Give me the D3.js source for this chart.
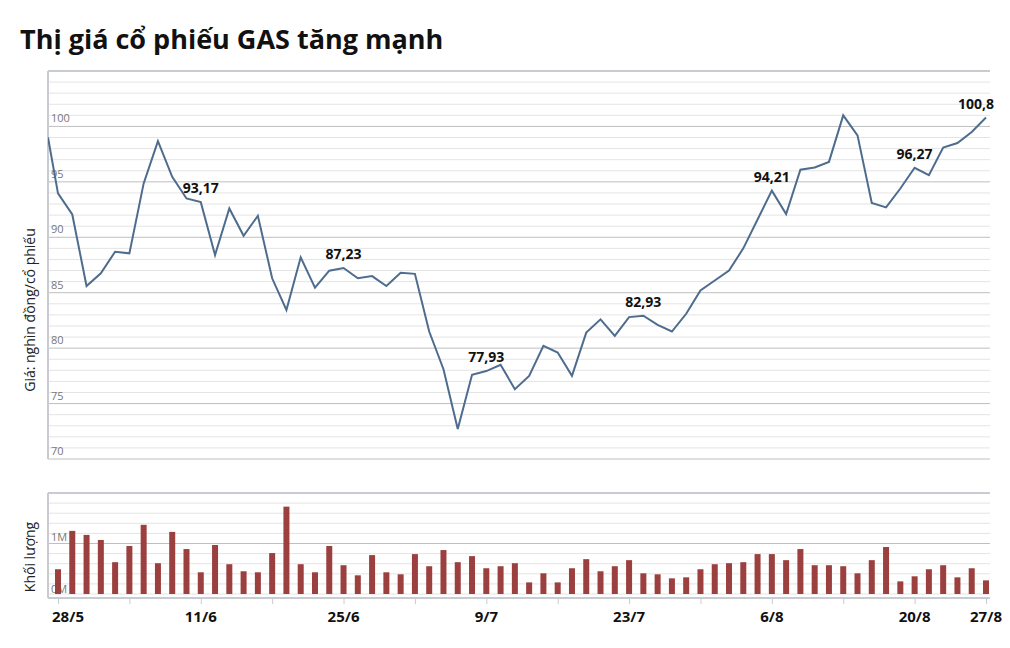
<!DOCTYPE html>
<html><head><meta charset="utf-8">
<script src="https://cdn.jsdelivr.net/npm/d3@7"></script>
<style>body{margin:0;background:#fff;font-family:"Open Sans",sans-serif}</style>
</head><body><svg id="c" width="1010" height="648"></svg>
<script>
// gia dong cua (nghin dong), phien dau tien nam mot phan ngoai khung
var firstPrice = 99.0;
var prices = [93.96, 92.06, 85.6, 86.75, 88.7, 88.55, 94.86, 98.68, 95.46, 93.5,
  93.17, 88.4, 92.6, 90.14, 91.94, 86.3, 83.44, 88.19, 85.45, 86.99,
  87.23, 86.3, 86.5, 85.6, 86.8, 86.7, 81.5, 78.1, 72.7, 77.6,
  77.93, 78.5, 76.3, 77.5, 80.2, 79.6, 77.5, 81.4, 82.6, 81.1,
  82.8, 82.93, 82.1, 81.5, 83.1, 85.2, 86.1, 87.0, 89.0, 91.6,
  94.21, 92.1, 96.1, 96.3, 96.8, 101.0, 99.2, 93.1, 92.7, 94.4,
  96.27, 95.6, 98.1, 98.5, 99.5, 100.8];
// khoi luong (trieu co phieu)
var volumes = [0.49, 1.25, 1.17, 1.07, 0.63, 0.95, 1.37, 0.61, 1.23, 0.89,
  0.43, 0.97, 0.59, 0.45, 0.43, 0.81, 1.73, 0.59, 0.43, 0.95,
  0.57, 0.37, 0.77, 0.43, 0.39, 0.79, 0.55, 0.87, 0.63, 0.75,
  0.51, 0.55, 0.61, 0.23, 0.41, 0.23, 0.51, 0.69, 0.45, 0.55,
  0.67, 0.41, 0.39, 0.31, 0.33, 0.49, 0.59, 0.61, 0.63, 0.79,
  0.79, 0.67, 0.89, 0.57, 0.57, 0.55, 0.41, 0.67, 0.93, 0.25,
  0.35, 0.49, 0.57, 0.33, 0.51, 0.27];
var dateTicks = [0, 10, 20, 30, 40, 50, 60, 65];
var dateLabels = ["28/5", "11/6", "25/6", "9/7", "23/7", "6/8", "20/8", "27/8"];
var labelIdx = [10, 20, 30, 41, 50, 60, 65];
var priceTicks = [70, 75, 80, 85, 90, 95, 100];

var svg = d3.select("#c");
var L = 48, R = 990;
var x = d3.scaleLinear().domain([0, prices.length - 1]).range([58, 986]);

svg.append("text").attr("x", 20).attr("y", 49).attr("font-size", 27).attr("font-weight", "bold")
  .attr("fill", "#111").text("Thị giá cổ phiếu GAS tăng mạnh");

// ----- price panel
var y = d3.scaleLinear().domain([70, 105]).range([459, 71]);
var g = svg.append("g");
g.selectAll("line.minor").data(d3.range(70, 106)).enter().append("line")
  .attr("x1", L).attr("x2", R).attr("y1", function(d){ return y(d); }).attr("y2", function(d){ return y(d); })
  .attr("stroke", function(d){ return d % 5 === 0 ? "#bfbfbf" : "#e4e4e4"; }).attr("stroke-width", 1);
g.append("line").attr("x1", L).attr("x2", L).attr("y1", 71).attr("y2", 459).attr("stroke", "#c8ccd0").attr("stroke-width", 2);
g.append("line").attr("x1", L).attr("x2", R).attr("y1", 71).attr("y2", 71).attr("stroke", "#c8ccd0").attr("stroke-width", 2);
g.selectAll("text.tk").data(priceTicks).enter().append("text")
  .attr("x", 51).attr("y", function(d){ return y(d) - 4; }).attr("font-size", 11).attr("fill", "#777")
  .text(function(d){ return d; });
svg.append("text").attr("transform", "translate(35,310) rotate(-90)").attr("text-anchor", "middle")
  .attr("font-size", 14).attr("fill", "#222").text("Giá: nghìn đồng/cổ phiếu");

svg.append("clipPath").attr("id", "cp").append("rect").attr("x", L).attr("y", 60).attr("width", R - L + 5).attr("height", 410);
var pts = [[-0.7, firstPrice]].concat(prices.map(function(v, i){ return [i, v]; }));
svg.append("path").datum(pts).attr("clip-path", "url(#cp)")
  .attr("d", d3.line().x(function(d){ return x(d[0]); }).y(function(d){ return y(d[1]); }))
  .attr("fill", "none").attr("stroke", "#4e6c8e").attr("stroke-width", 2);
svg.selectAll("text.lbl").data(labelIdx).enter().append("text")
  .attr("x", function(i){ return x(i) + (i === 65 ? -10 : 0); }).attr("y", function(i){ return y(prices[i]) - 9; })
  .attr("text-anchor", "middle").attr("font-size", 14).attr("font-weight", "bold").attr("fill", "#111")
  .text(function(i){ return String(prices[i]).replace(".", ","); });

// ----- volume panel
var yv = d3.scaleLinear().domain([0, 2]).range([594, 493]);
svg.selectAll("line.vg").data(d3.range(0, 2.01, 0.2)).enter().append("line")
  .attr("x1", L).attr("x2", R).attr("y1", function(d){ return yv(d); }).attr("y2", function(d){ return yv(d); })
  .attr("stroke", function(d){ return Math.abs(d - 1) < 0.01 ? "#bfbfbf" : "#e4e4e4"; });
svg.append("line").attr("x1", L).attr("x2", L).attr("y1", 493).attr("y2", 598).attr("stroke", "#c8ccd0").attr("stroke-width", 2);
svg.append("line").attr("x1", L).attr("x2", R).attr("y1", 493).attr("y2", 493).attr("stroke", "#c8ccd0").attr("stroke-width", 2);
svg.append("text").attr("x", 51).attr("y", yv(1) - 3).attr("font-size", 11).attr("fill", "#777").text("1M");
svg.append("text").attr("x", 51).attr("y", yv(0) - 1).attr("font-size", 11).attr("fill", "#777").text("0M");
svg.append("text").attr("transform", "translate(35,557) rotate(-90)").attr("text-anchor", "middle")
  .attr("font-size", 14).attr("fill", "#222").text("Khối lượng");
svg.selectAll("rect.bar").data(volumes).enter().append("rect")
  .attr("x", function(d, i){ return x(i) - 3; }).attr("width", 6)
  .attr("y", function(d){ return yv(d); }).attr("height", function(d){ return yv(0) - yv(d); })
  .attr("fill", "#9c3f3f");

var ax = svg.append("g").attr("transform", "translate(0,598)")
  .call(d3.axisBottom(x).tickValues(d3.range(0, 66, 5).concat([65])).tickSize(6).tickFormat(""));
ax.select(".domain").attr("stroke", "#c8ccd0").attr("stroke-width", 2).attr("d", "M" + L + ",0H" + R);
ax.selectAll(".tick line").attr("stroke", "#c8ccd0");
svg.selectAll("text.dt").data(dateTicks).enter().append("text")
  .attr("x", function(i, k){ return x(i) + (k === 0 ? 10 : 0); }).attr("y", 622).attr("text-anchor", "middle")
  .attr("font-size", 15).attr("font-weight", "bold").attr("fill", "#111")
  .text(function(d, k){ return dateLabels[k]; });
</script></body></html>
